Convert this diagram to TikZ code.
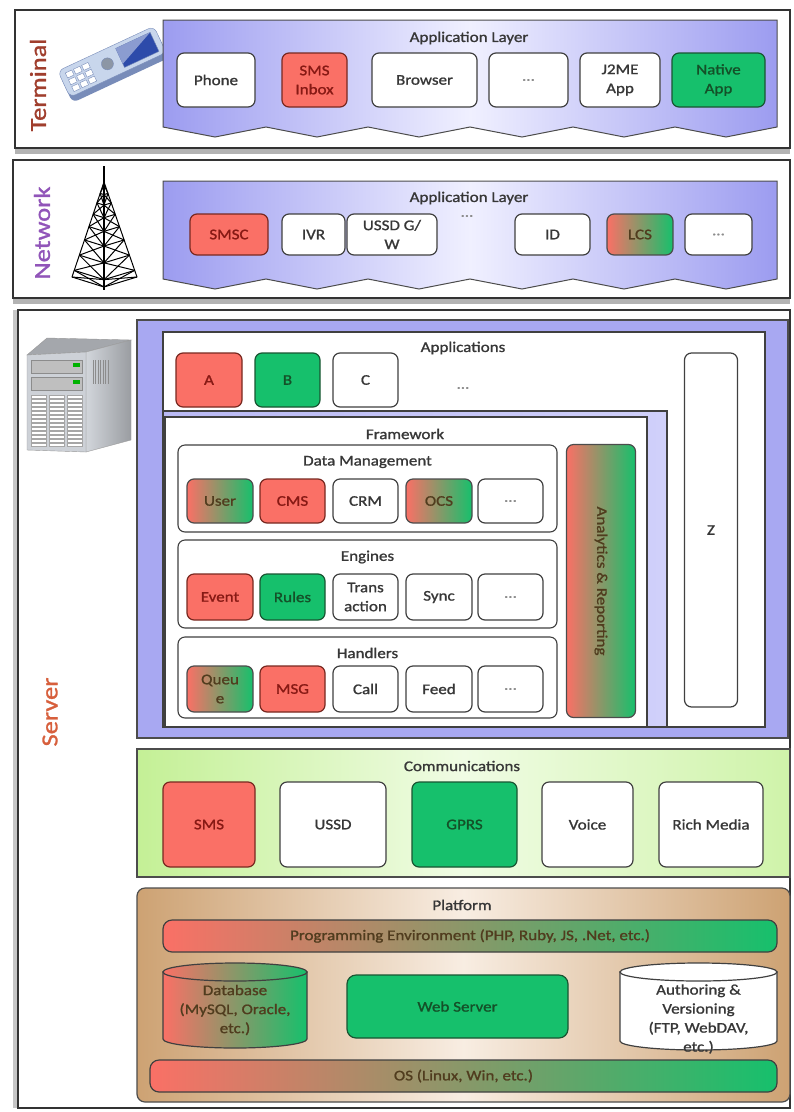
\documentclass[tikz,border=0pt]{standalone}
\usepackage{fontspec}
\setmainfont{Carlito}[FakeStretch=1.15, FakeBold=1.2]
\usetikzlibrary{shadows}

\definecolor{boxred}{RGB}{250,112,102}
\definecolor{boxgreen}{RGB}{22,192,108}
\definecolor{redline}{RGB}{120,40,32}
\definecolor{greenline}{RGB}{25,85,50}
\definecolor{redtext}{RGB}{135,25,20}
\definecolor{greentext}{RGB}{20,80,40}
\definecolor{mixtext}{RGB}{80,60,30}
\definecolor{txt}{RGB}{55,55,55}
\definecolor{appblue}{RGB}{156,156,240}
\definecolor{applight}{RGB}{240,240,255}
\definecolor{srvblue}{RGB}{168,168,242}
\definecolor{frameblue}{RGB}{208,208,250}
\definecolor{commgreen}{RGB}{196,240,150}
\definecolor{commlight}{RGB}{240,252,228}
\definecolor{plattan}{RGB}{205,162,115}
\definecolor{platlight}{RGB}{248,237,226}
\definecolor{termcol}{RGB}{160,62,45}
\definecolor{netcol}{RGB}{145,85,185}
\definecolor{servcol}{RGB}{215,95,60}
\definecolor{phonebody}{RGB}{200,214,236}
\definecolor{phoneside}{RGB}{120,140,185}
\definecolor{phonescreen}{RGB}{45,75,170}
\definecolor{srvgray}{RGB}{205,209,215}

\tikzset{
  tier/.style={draw=black!80, line width=1.8pt, fill=white},
  applayer/.style={draw=black!70, line width=1pt, left color=appblue,
                   right color=appblue, middle color=applight},
  panel/.style={draw=black!75, line width=1.2pt, fill=white},
  grp/.style={rectangle, rounded corners=7pt, draw=black!75, line width=1.1pt, fill=white},
  item/.style={rectangle, rounded corners=7pt, draw=black!75, line width=1.2pt, fill=white,
               align=center, text=txt, inner sep=1pt},
  itemred/.style={item, fill=boxred, draw=redline, text=redtext},
  itemgreen/.style={item, fill=boxgreen, draw=greenline, text=greentext},
  itemmix/.style={item, left color=boxred, right color=boxgreen, draw=black!70, text=mixtext},
  envbar/.style={rectangle, rounded corners=9pt, draw=black!75, line width=1.2pt,
                 left color=boxred, right color=boxgreen, text=mixtext},
  cyl/.style={draw=black!75, line width=1.2pt},
  lbl/.style={text=txt},
  dots/.style={text=black!45},
  tierlbl/.style={font=\fontsize{23}{25}\selectfont, rotate=90},
  tower/.style={draw=black, line width=1pt},
}

\begin{document}
\begin{tikzpicture}[x=1pt, y=-1pt, font=\fontsize{14.8}{19}\selectfont]
\useasboundingbox (0,0) rectangle (794,1112);

%% ------------------------------------------------------------------
%% Terminal
%% ------------------------------------------------------------------
\draw[tier, drop shadow={shadow xshift=0pt, shadow yshift=-6pt, opacity=.6}]
  (15,10) rectangle (790,148);
\node[tierlbl, text=termcol] (terminal) at (38,85) {Terminal};

% handset
\begin{scope}[rotate around={25:(113,64)}]
  \fill[rounded corners=6pt, phoneside] (60,52) rectangle (166,82);
  \draw[rounded corners=6pt, fill=phonebody, draw=phoneside] (60,47) rectangle (166,76);
  \draw[fill=phonescreen, draw=phoneside] (122,51) rectangle (160,72);
  \fill[phonescreen!55!white] (122,51) -- (160,51) -- (122,68) -- cycle;
  \draw[fill=phonebody!70!black, draw=phoneside] (108,61.5) circle (6);
  \foreach \i in {0,1,2}
    \foreach \j in {0,1,2}
      \draw[fill=white, draw=phoneside] ({66+\i*9},{52+\j*7.5}) rectangle ++(7,5.5);
\end{scope}

\draw[applayer] (163,20) -- (777,20) -- (777,127) -- (726,137) -- (675,127)
  -- (624,137) -- (573,127) -- (522,137) -- (470,127) -- (419,137) -- (368,127)
  -- (317,137) -- (266,127) -- (215,137) -- (163,127) -- cycle;
\node[lbl] (termlayer) at (469,38) {Application Layer};

\node[item,      minimum width=78, minimum height=54] (phone)   at (216,80)   {Phone};
\node[itemred,   minimum width=65, minimum height=54] (inbox)   at (314.5,80) {SMS\\Inbox};
\node[item,      minimum width=105, minimum height=54] (browser) at (424.5,80) {Browser};
\node[item, dots, minimum width=79, minimum height=54] (termmore) at (528.5,80) {…};
\node[item,      minimum width=80, minimum height=54] (j2me)    at (620,80)   {J2ME\\App};
\node[itemgreen, minimum width=93, minimum height=54] (native)  at (718.5,80) {Native\\App};

%% ------------------------------------------------------------------
%% Network
%% ------------------------------------------------------------------
\draw[tier, drop shadow={shadow xshift=0pt, shadow yshift=-6pt, opacity=.6}]
  (13,160) rectangle (790,298);
\node[tierlbl, text=netcol] (network) at (42,233) {Network};

% mast
\draw[tower, line width=1.6pt] (104,166) -- (104,290);
\draw[tower] (104,182) -- (72,277);
\draw[tower] (104,182) -- (137,277);
\foreach \t [remember=\t as \s (initially 0.03)] in {0.12,0.22,0.34,0.47,0.61,0.77,0.93,1}{
  \draw[tower] ({104-32*\t},{182+95*\t}) -- (104,{182+105*\t}) -- ({104+33*\t},{182+95*\t});
  \draw[tower] ({104-32*\s},{182+95*\s}) -- (104,{182+105*\t}) -- ({104+33*\s},{182+95*\s});
  \draw[tower] ({104-32*\t},{182+95*\t}) -- (104,{182+105*\s}) -- ({104+33*\t},{182+95*\t});
}

\draw[applayer] (163,181) -- (777,181) -- (777,279) -- (726,289) -- (675,279)
  -- (624,289) -- (573,279) -- (522,289) -- (470,279) -- (419,289) -- (368,279)
  -- (317,289) -- (266,279) -- (215,289) -- (163,279) -- cycle;
\node[lbl] (netlayer) at (469,198) {Application Layer};
\node[dots] (netdots) at (467,216) {…};

\node[itemred,   minimum width=78, minimum height=41] (smsc)   at (229,234.5)   {SMSC};
\node[item,      minimum width=63, minimum height=41] (ivr)    at (313.5,234.5) {IVR};
\node[item,      minimum width=90, minimum height=41] (ussdgw) at (392,234.5)   {USSD G/\\W};
\node[item,      minimum width=75, minimum height=41] (id)     at (552.5,234.5) {ID};
\node[itemmix,   minimum width=66, minimum height=41] (lcs)    at (640,234.5)   {LCS};
\node[item, dots, minimum width=67, minimum height=41] (netmore) at (718.5,234.5) {…};

%% ------------------------------------------------------------------
%% Server
%% ------------------------------------------------------------------
\draw[tier, drop shadow={shadow xshift=-5pt, shadow yshift=0pt, opacity=.45}]
  (18,310) rectangle (790,1108);
\node[tierlbl, text=servcol] (server) at (50,712) {Server};

% tower case
\draw[fill=srvgray!80!black, draw=black!40] (27,355) -- (47,338) -- (131,340) -- (86,352) -- cycle;
\draw[draw=black!40, left color=srvgray!90!white, right color=srvgray!75!black]
  (86,352) -- (131,340) -- (131,440) -- (86,452) -- cycle;
\draw[fill=srvgray, draw=black!40] (27,355) -- (86,352) -- (86,452) -- (27,450) -- cycle;
\foreach \y in {360,377}{
  \draw[fill=black!25, draw=black!45] (31,\y) rectangle (82,{\y+13});
  \fill[green!70!black] (73,{\y+3}) rectangle (80,{\y+7});
}
\foreach \x in {31,49,67}
  \foreach \y in {395,399,...,443}
    \draw[fill=white, draw=black!35, line width=.4pt] (\x,\y) rectangle ({\x+15},{\y+2.8});
\foreach \x in {93,95.5,...,108}
  \draw[black!45, line width=.8pt] (\x,360) -- (\x,384);

% application stack
\draw[draw=black!70, line width=1.2pt, fill=srvblue] (137,320) rectangle (788,738);
\draw[panel] (163,332) rectangle (765,727);
\node[lbl] (appslbl) at (463,348) {Applications};
\node[itemred,   minimum width=66, minimum height=54] (appa) at (209,380)   {A};
\node[itemgreen, minimum width=65, minimum height=54] (appb) at (287.5,380) {B};
\node[item,      minimum width=65, minimum height=54] (appc) at (365.5,380) {C};
\node[dots] (appmore) at (463,388) {…};

\node[item, minimum width=53, minimum height=354] (z) at (711,530) {Z};

\draw[panel, left color=srvblue!80!white, right color=frameblue] (163,411) rectangle (667,727);
\draw[panel] (165,417) rectangle (647,727);
\node[lbl] (fwlbl) at (405,434) {Framework};

\node[itemmix, minimum width=69, minimum height=273] (analytics) at (601,581) {};
\node[rotate=-90, text=mixtext] (analyticslbl) at (analytics) {Analytics \& Reporting};

% data management
\node[grp, minimum width=379, minimum height=87] (datamgmt) at (367.5,488.5) {};
\node[lbl] (datamgmtlbl) at (367.5,462) {Data Management};
\node[itemmix,  minimum width=66, minimum height=44] (user) at (220,501)   {User};
\node[itemred,  minimum width=65, minimum height=44] (cms)  at (292.5,501) {CMS};
\node[item,     minimum width=65, minimum height=44] (crm)  at (365.5,501) {CRM};
\node[itemmix,  minimum width=66, minimum height=44] (ocs)  at (439,501)   {OCS};
\node[item, dots, minimum width=65, minimum height=44] (dmmore) at (510.5,501) {…};

% engines
\node[grp, minimum width=379, minimum height=88] (engines) at (367.5,584) {};
\node[lbl] (engineslbl) at (367.5,557) {Engines};
\node[itemred,   minimum width=66, minimum height=46] (event) at (220,597)   {Event};
\node[itemgreen, minimum width=65, minimum height=46] (rules) at (292.5,597) {Rules};
\node[item,      minimum width=65, minimum height=46] (trans) at (365.5,597) {Trans\\action};
\node[item,      minimum width=66, minimum height=46] (sync)  at (439,597)   {Sync};
\node[item, dots, minimum width=65, minimum height=46] (engmore) at (510.5,597) {…};

% handlers
\node[grp, minimum width=379, minimum height=81] (handlers) at (367.5,677.5) {};
\node[lbl] (handlerslbl) at (367.5,653) {Handlers};
\node[itemmix,  minimum width=66, minimum height=46] (queue) at (220,689)   {Queu\\e};
\node[itemred,  minimum width=65, minimum height=46] (msg)   at (292.5,689) {MSG};
\node[item,     minimum width=65, minimum height=46] (call)  at (365.5,689) {Call};
\node[item,     minimum width=66, minimum height=46] (feed)  at (439,689)   {Feed};
\node[item, dots, minimum width=65, minimum height=46] (hdlmore) at (510.5,689) {…};

% communications
\draw[draw=black!70, line width=1.2pt, left color=commgreen,
      right color=commgreen!75!commlight, middle color=commlight] (137,749) rectangle (790,877);
\node[lbl] (commlbl) at (462,766) {Communications};
\node[itemred,   minimum width=92,  minimum height=85] (sms)   at (209,824.5)   {SMS};
\node[item,      minimum width=106, minimum height=85] (ussd)  at (333,824.5)   {USSD};
\node[itemgreen, minimum width=105, minimum height=85] (gprs)  at (464.5,824.5) {GPRS};
\node[item,      minimum width=91,  minimum height=85] (voice) at (587.5,824.5) {Voice};
\node[item,      minimum width=104, minimum height=85] (rich)  at (711,824.5)   {Rich Media};

% platform
\draw[draw=black!70, line width=1.2pt, rounded corners=8pt, left color=plattan,
      right color=plattan, middle color=platlight] (137,888) rectangle (790,1102);
\node[lbl] (platlbl) at (462,905) {Platform};
\node[envbar, minimum width=614, minimum height=32] (progenv) at (470,936)
  {Programming Environment (PHP, Ruby, JS, .Net, etc.)};

\draw[cyl, left color=boxred, right color=boxgreen] (163,972) -- (163,1039)
  arc[start angle=180, end angle=0, x radius=72, y radius=9] -- (307,972) -- cycle;
\draw[cyl, left color=boxred, right color=boxgreen] (235,972) ellipse[x radius=72, y radius=9];
\node[text=mixtext, align=center] (database) at (235,1010) {Database\\(MySQL, Oracle,\\etc.)};

\node[itemgreen, rounded corners=9pt, minimum width=221, minimum height=63] (websrv)
  at (457.5,1006.5) {Web Server};

\draw[cyl, fill=white] (620,972) -- (620,1041)
  arc[start angle=180, end angle=0, x radius=78.5, y radius=9] -- (777,972) -- cycle;
\draw[cyl, fill=white] (698.5,972) ellipse[x radius=78.5, y radius=9];
\node[lbl, align=center] (authoring) at (698.5,1019)
  {Authoring \&\\Versioning\\(FTP, WebDAV,\\etc.)};

\node[envbar, minimum width=627, minimum height=32] (os) at (463.5,1076)
  {OS (Linux, Win, etc.)};

\end{tikzpicture}
\end{document}
